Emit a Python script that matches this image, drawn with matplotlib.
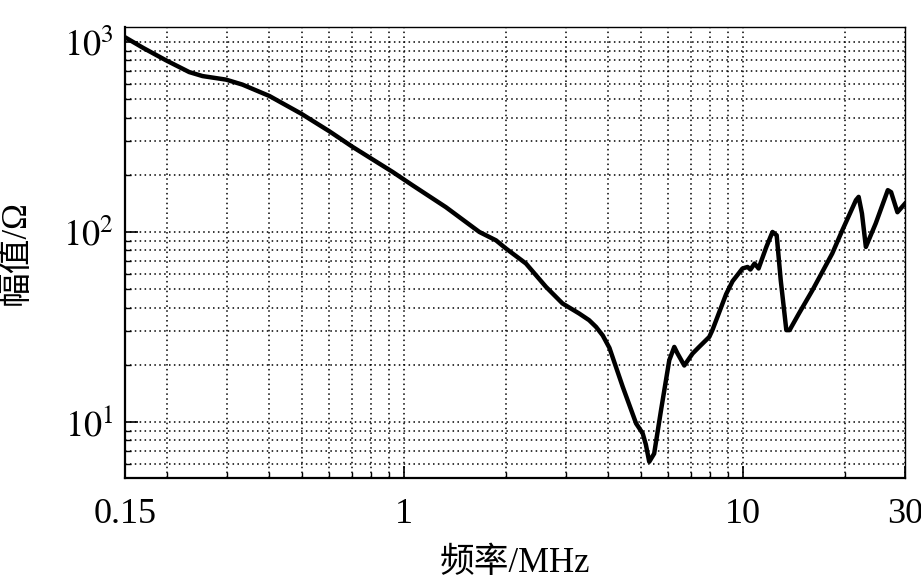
import numpy as np
import matplotlib
matplotlib.use('Agg')
import matplotlib.pyplot as plt
from matplotlib.ticker import FixedLocator, NullFormatter

plt.rcParams['font.family'] = ['Liberation Serif', 'Noto Sans CJK SC']
plt.rcParams['mathtext.fontset'] = 'stix'

# frequency (MHz) and impedance magnitude (ohm)
freq = [0.15, 0.17, 0.198, 0.232, 0.254, 0.298, 0.333, 0.40, 0.496, 0.601,
        0.705, 0.844, 0.924, 1.058, 1.327, 1.665, 1.865, 1.995, 2.285, 2.618,
        2.93, 3.28, 3.51, 3.68, 3.85, 4.03, 4.41, 4.83, 5.05, 5.16,
        5.28, 5.46, 5.72, 6.05, 6.26, 6.40, 6.70, 7.09, 7.41, 7.94,
        8.11, 8.6, 8.9, 9.3, 9.95, 10.3, 10.5, 10.8, 11.1, 11.7,
        12.2, 12.55, 12.9, 13.4, 13.7, 14.6, 16.0, 18.3, 19.6, 21.5,
        21.9, 22.4, 23.0, 24.6, 26.7, 27.3, 28.5, 30.0]
mag = [1060, 930, 802, 695, 662, 634, 597, 520, 420, 339,
       280, 229, 207, 176, 135, 100, 90.3, 81.8, 68.2, 51.4,
       42.0, 37.2, 34.3, 31.6, 28.5, 24.5, 15.3, 9.8, 8.7, 7.6,
       6.16, 6.8, 11.5, 21.1, 24.8, 22.9, 19.8, 22.9, 24.8, 28.0,
       30.4, 40.0, 47.0, 55.0, 64.2, 65.4, 63.4, 68.2, 64.2, 83.4,
       100, 96, 55.7, 30.4, 30.4, 37.2, 49.3, 76.9, 102, 147,
       153, 125, 83.4, 111, 166, 162, 127, 141]

xticks = [0.15, 1, 10, 30]
xticklabels = ['0.15', '1', '10', '30']
xminor = [0.2, 0.3, 0.4, 0.5, 0.6, 0.7, 0.8, 0.9,
          2, 3, 4, 5, 6, 7, 8, 9, 20]
yticks = [10, 100, 1000]
yticklabels = [r'$10^1$', r'$10^2$', r'$10^3$']

fig = plt.figure(figsize=(9.21, 5.81), dpi=100)
ax = fig.add_axes([0.1357, 0.177, 0.8469, 0.7765])

ax.plot(freq, mag, color='black', lw=3.2, solid_joinstyle='round')

ax.set_xscale('log')
ax.set_yscale('log')
ax.set_xlim(0.15, 30)
ax.set_ylim(5.05, 1200)

ax.xaxis.set_major_locator(FixedLocator(xticks))
ax.set_xticklabels(xticklabels)
ax.xaxis.set_minor_locator(FixedLocator(xminor))
ax.xaxis.set_minor_formatter(NullFormatter())
ax.yaxis.set_major_locator(FixedLocator(yticks))
ax.set_yticklabels(yticklabels)
ax.yaxis.set_minor_locator(FixedLocator(
    [v * d for d in (1, 10, 100) for v in range(2, 10)]))
ax.yaxis.set_minor_formatter(NullFormatter())

ax.grid(True, which='both', color='black', linestyle=(0, (1, 2.2)), lw=1.1)
ax.tick_params(which='major', direction='in', length=9, width=1.2,
               labelsize=26, top=False, right=False)
ax.tick_params(axis='x', which='major', pad=14)
ax.tick_params(axis='y', which='major', pad=8)
ax.tick_params(which='minor', direction='in', length=4, width=1)

for s in ['left', 'bottom']:
    ax.spines[s].set_linewidth(1.6)
for s in ['top', 'right']:
    ax.spines[s].set_linewidth(1.0)

ax.set_xlabel('频率/MHz', fontsize=25, labelpad=12)
ax.set_ylabel('幅值/Ω', fontsize=25, labelpad=22)

fig.savefig('out.png', dpi=100)
